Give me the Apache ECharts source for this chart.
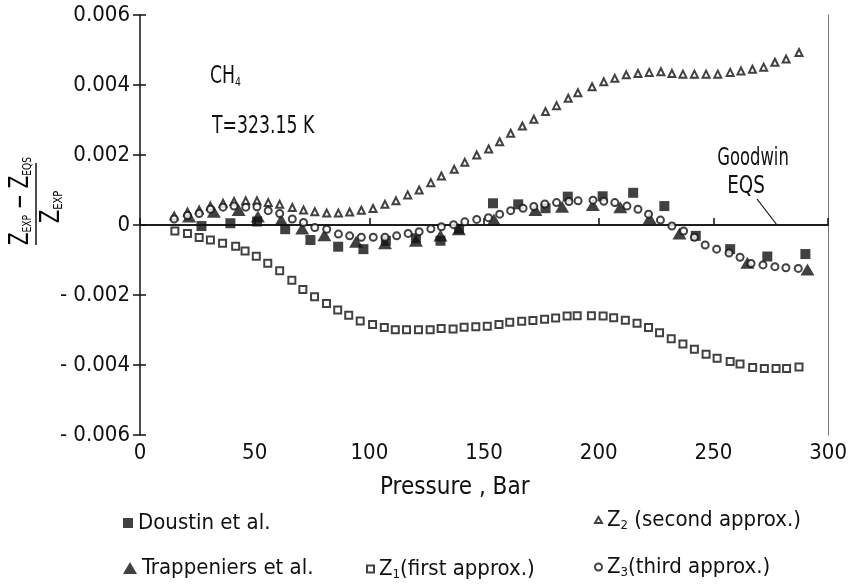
<!DOCTYPE html>
<html><head><meta charset="utf-8">
<script src="https://cdn.jsdelivr.net/npm/echarts@6/dist/echarts.min.js"></script>
<style>html,body{margin:0;padding:0;background:#fff}#c{width:850px;height:584px}</style>
</head><body><div id="c"></div>
<script>
const FONT = "'Liberation Sans Narrow','Arial Narrow','DejaVu Sans Condensed',sans-serif";
const INK = '#111';

// Goodwin EQS reference line
const goodwinP = [0, 300];
const goodwinV = [0, 0];

// Doustin et al. (filled squares)
const doustinP = [26.8,39.4,51,63.3,74.3,86.4,97.4,107.2,120.3,131,139.1,153.9,164.9,176.8,186.5,201.7,215,228.6,242.3,257.3,273.5,290.1];
const doustinV = [-0.00003,0.00005,0.0001,-0.00012,-0.00043,-0.00062,-0.00069,-0.00045,-0.00038,-0.00045,-0.00011,0.00062,0.00059,0.00048,0.00081,0.00082,0.00092,0.00054,-0.00031,-0.00069,-0.0009,-0.00083];

// Trappeniers et al. (filled triangles)
const trapP = [21.4,32.2,43,51.4,61.6,70.7,80.4,94.2,106.8,120.3,131,139,154.3,172.4,184,197.4,209.4,222.2,235.2,264.8,291];
const trapV = [0.00024,0.00038,0.00043,0.00024,0.00014,-0.0001,-0.00029,-0.00048,-0.00052,-0.00045,-0.0003,-0.00012,0.00016,0.00043,0.00052,0.00057,0.00051,0.00019,-0.00024,-0.00108,-0.00127];

// Z1 (first approx.)
const z1P = [15.2,20.7,25.8,30.7,36,41.7,45.8,50.7,55.7,60.9,66.2,71,76.1,81.3,86.2,91,96,101.4,106.5,111.3,116.2,121.4,126.5,131.3,136.5,141.3,146.4,151.4,156.5,161.2,166.4,171.3,176.4,181.2,186.2,190.6,196.8,201.9,206.5,211.6,216.7,221.7,226.5,231.6,236.7,241.7,246.8,251.6,257.3,261.6,267.1,272.2,277.3,281.9,287.3];
const z1V = [-0.00017,-0.00024,-0.00036,-0.00043,-0.00052,-0.00061,-0.00074,-0.00089,-0.00109,-0.00131,-0.00158,-0.00184,-0.00205,-0.00224,-0.00243,-0.00258,-0.00274,-0.00284,-0.00293,-0.00299,-0.00299,-0.00299,-0.00299,-0.00296,-0.00297,-0.00292,-0.00291,-0.00289,-0.00284,-0.00278,-0.00275,-0.00273,-0.00269,-0.00266,-0.0026,-0.00259,-0.00259,-0.0026,-0.00265,-0.00272,-0.00281,-0.00293,-0.00308,-0.00325,-0.0034,-0.00355,-0.00369,-0.00381,-0.0039,-0.00397,-0.00407,-0.0041,-0.0041,-0.0041,-0.00406];

// Z2 (second approx.)
const z2P = [14.9,20.7,25.8,30.7,36.2,41,46.1,51,55.9,60.9,66.4,71.3,76.2,81.4,86.5,91.4,96.5,101.6,106.8,111.6,116.7,121.7,126.8,131.4,137,141.6,146.8,152,156.8,161.6,166.7,171.7,176.8,181.6,186.7,190.9,197.1,202.2,207,212,217.1,222,227.1,231.9,236.7,241.7,246.8,251.9,257.3,262,267,271.9,276.8,281.7,287.3];
const z2V = [0.00026,0.00037,0.00043,0.00054,0.00062,0.00067,0.00069,0.00069,0.00064,0.00059,0.0005,0.00043,0.00038,0.00034,0.00034,0.00037,0.00042,0.00047,0.00059,0.00069,0.00086,0.001,0.00121,0.0014,0.00159,0.00179,0.002,0.00217,0.00238,0.00262,0.00283,0.00302,0.00324,0.00341,0.00362,0.00378,0.00395,0.00409,0.00419,0.00429,0.00433,0.00436,0.00438,0.00433,0.00431,0.00431,0.00431,0.00431,0.00436,0.0044,0.00445,0.00451,0.00465,0.00474,0.00493];

// Z3 (third approx.)
const z3P = [14.9,20.7,25.8,30.7,36.2,41,46.1,51,55.9,60.9,66.4,71.3,76.2,81.4,86.5,91.4,96.5,101.7,106.8,111.9,116.9,121.7,126.8,131.4,136.7,141.6,146.8,151.9,156.8,161.6,167,171.7,176.5,181.6,187,191,197.5,202.2,207,212.3,217.1,221.7,226.9,231.9,237,241.7,246.4,251.4,256.8,261.6,266.4,271.6,276.8,281.6,287];
const z3V = [0.00017,0.00027,0.00033,0.00045,0.00051,0.00054,0.00051,0.00052,0.00041,0.00033,0.00017,0.00007,-0.00007,-0.00012,-0.00026,-0.00031,-0.00035,-0.00035,-0.00035,-0.00031,-0.00024,-0.00019,-0.00011,-0.00005,0.00001,0.00009,0.00016,0.00021,0.00031,0.00041,0.00048,0.00053,0.0006,0.00064,0.00067,0.00069,0.00071,0.00068,0.00064,0.00054,0.00045,0.00031,0.00014,-0.00003,-0.00017,-0.00035,-0.00057,-0.00069,-0.0008,-0.00092,-0.0011,-0.00114,-0.00119,-0.00122,-0.00124];

// axis settings
const xMin = 0, xMax = 300, xStep = 50;
const yMin = -0.006, yMax = 0.006, yStep = 0.002;

const pairs = (p, v) => p.map((x, i) => [x, v[i]]);

const chart = echarts.init(document.getElementById('c'), null, {renderer: 'canvas'});

const baseText = {fontFamily: FONT, fontSize: 22, color: INK};
const richSub = {
  s: {fontFamily: FONT, fontSize: 13, color: INK, verticalAlign: 'bottom', lineHeight: 13},
  n: {fontFamily: FONT, fontSize: 22, color: INK}
};
const legendNames = {
  'Z1': '{n|Z}{s|1}{n|(first approx.)}',
  'Z2': '{n|Z}{s|2}{n| (second approx.)}',
  'Z3': '{n|Z}{s|3}{n|(third approx.)}'
};
function mkLegend(name, left, top, w, h) {
  return {
    data: [name], left: left, top: top, padding: 0, itemWidth: w, itemHeight: h,
    selectedMode: false, orient: 'horizontal',
    textStyle: Object.assign({}, baseText, {rich: richSub, lineHeight: 24}),
    formatter: n => legendNames[n] || n
  };
}

const yFmt = v => Math.abs(v) < 1e-12 ? '0' : (v < 0 ? '- ' + (-v).toFixed(3) : v.toFixed(3));
const subRich = {
  z: {fontFamily: FONT, fontSize: 26, color: INK},
  t: {fontFamily: FONT, fontSize: 13, color: INK, verticalAlign: 'bottom', lineHeight: 13}
};

const option = {
  animation: false,
  backgroundColor: '#fff',
  grid: {left: 140, right: 20, top: 15, bottom: 149},
  xAxis: [
    {type: 'value', min: xMin, max: xMax, interval: xStep, position: 'bottom',
     axisLine: {lineStyle: {color: INK, width: 1.5}},
     axisTick: {inside: true, length: 7, lineStyle: {color: INK, width: 1.5}},
     axisLabel: Object.assign({}, baseText, {margin: 7}),
     splitLine: {show: false}},
    {type: 'value', min: xMin, max: xMax, interval: xStep, position: 'top',
     axisLine: {lineStyle: {color: '#444', width: 1}},
     axisTick: {show: false}, axisLabel: {show: false}, splitLine: {show: false}}
  ],
  yAxis: [
    {type: 'value', min: yMin, max: yMax, interval: yStep, position: 'left',
     axisLine: {lineStyle: {color: INK, width: 1.5}},
     axisTick: {inside: false, length: 7, lineStyle: {color: INK, width: 1.5}},
     axisLabel: Object.assign({}, baseText, {margin: 10, formatter: yFmt}),
     splitLine: {show: false}},
    {type: 'value', min: yMin, max: yMax, interval: yStep, position: 'left',
     axisLine: {show: false},
     axisTick: {inside: true, length: 6, lineStyle: {color: INK, width: 1.5}},
     axisLabel: {show: false}, splitLine: {show: false}},
    {type: 'value', min: yMin, max: yMax, interval: yStep, position: 'right',
     axisLine: {lineStyle: {color: '#777', width: 1}},
     axisTick: {show: false}, axisLabel: {show: false}, splitLine: {show: false}}
  ],
  legend: [
    mkLegend('Doustin et al.', 123, 511, 10, 10),
    mkLegend('Trappeniers et al.', 123, 556, 14, 12),
    mkLegend('Z1', 366, 557, 7, 7),
    mkLegend('Z2', 594, 508, 7, 6),
    mkLegend('Z3', 594, 555, 7, 7)
  ],
  series: [
    {name: 'Goodwin EQS', type: 'line', data: pairs(goodwinP, goodwinV), symbol: 'none',
     lineStyle: {color: INK, width: 1.5}, z: 1, silent: true},
    {name: 'Doustin et al.', type: 'scatter', data: pairs(doustinP, doustinV), symbol: 'rect', symbolSize: 10,
     itemStyle: {color: INK}, z: 3},
    {name: 'Trappeniers et al.', type: 'scatter', data: pairs(trapP, trapV), symbol: 'triangle', symbolSize: [14, 12],
     itemStyle: {color: INK}, z: 3},
    {name: 'Z1', type: 'scatter', data: pairs(z1P, z1V), symbol: 'emptyRect', symbolSize: 7,
     itemStyle: {color: INK, borderWidth: 1.4}, z: 4},
    {name: 'Z2', type: 'scatter', data: pairs(z2P, z2V), symbol: 'emptyTriangle', symbolSize: 7,
     itemStyle: {color: INK, borderWidth: 1.4}, z: 4},
    {name: 'Z3', type: 'scatter', data: pairs(z3P, z3V), symbol: 'emptyCircle', symbolSize: 7,
     itemStyle: {color: INK, borderWidth: 1.4}, z: 4}
  ],
  graphic: [
    {type: 'text', x: 210, y: 77, scaleX: 0.8, style: {text: '{z|CH}{t|4}', rich: {z: {fontFamily: FONT, fontSize: 24, color: INK}, t: subRich.t}, fill: INK, verticalAlign: 'middle'}},
    {type: 'text', x: 212, y: 127, scaleX: 0.8, style: {text: 'T=323.15 K', fill: INK, verticalAlign: 'middle', font: '24px ' + FONT}},
    {type: 'text', x: 753, y: 159, scaleX: 0.76, style: {text: 'Goodwin', fill: INK, align: 'center', verticalAlign: 'middle', font: '24px ' + FONT}},
    {type: 'text', x: 746, y: 187, scaleX: 0.85, style: {text: 'EQS', fill: INK, align: 'center', verticalAlign: 'middle', font: '24px ' + FONT}},
    {type: 'line', shape: {x1: 757, y1: 199, x2: 777, y2: 225}, style: {stroke: INK, lineWidth: 1.2}},
    {type: 'text', x: 380, y: 488, style: {text: 'Pressure , Bar', fill: INK, verticalAlign: 'middle', font: '24px ' + FONT}},
    {type: 'group', x: 36, y: 204, rotation: Math.PI / 2, children: [
      {type: 'line', shape: {x1: -41, y1: 0, x2: 41, y2: 0}, style: {stroke: INK, lineWidth: 1.5}},
      {type: 'text', x: 3, y: -15, scaleX: 0.78, style: {text: '{z|Z}{t|EXP}{z| − }{z|Z}{t|EQS}', align: 'center', verticalAlign: 'middle', rich: subRich}},
      {type: 'text', x: -3, y: 16, scaleX: 0.85, style: {text: '{z|Z}{t|EXP}', align: 'center', verticalAlign: 'middle', rich: subRich}}
    ]}
  ]
};
chart.setOption(option);
</script></body></html>
